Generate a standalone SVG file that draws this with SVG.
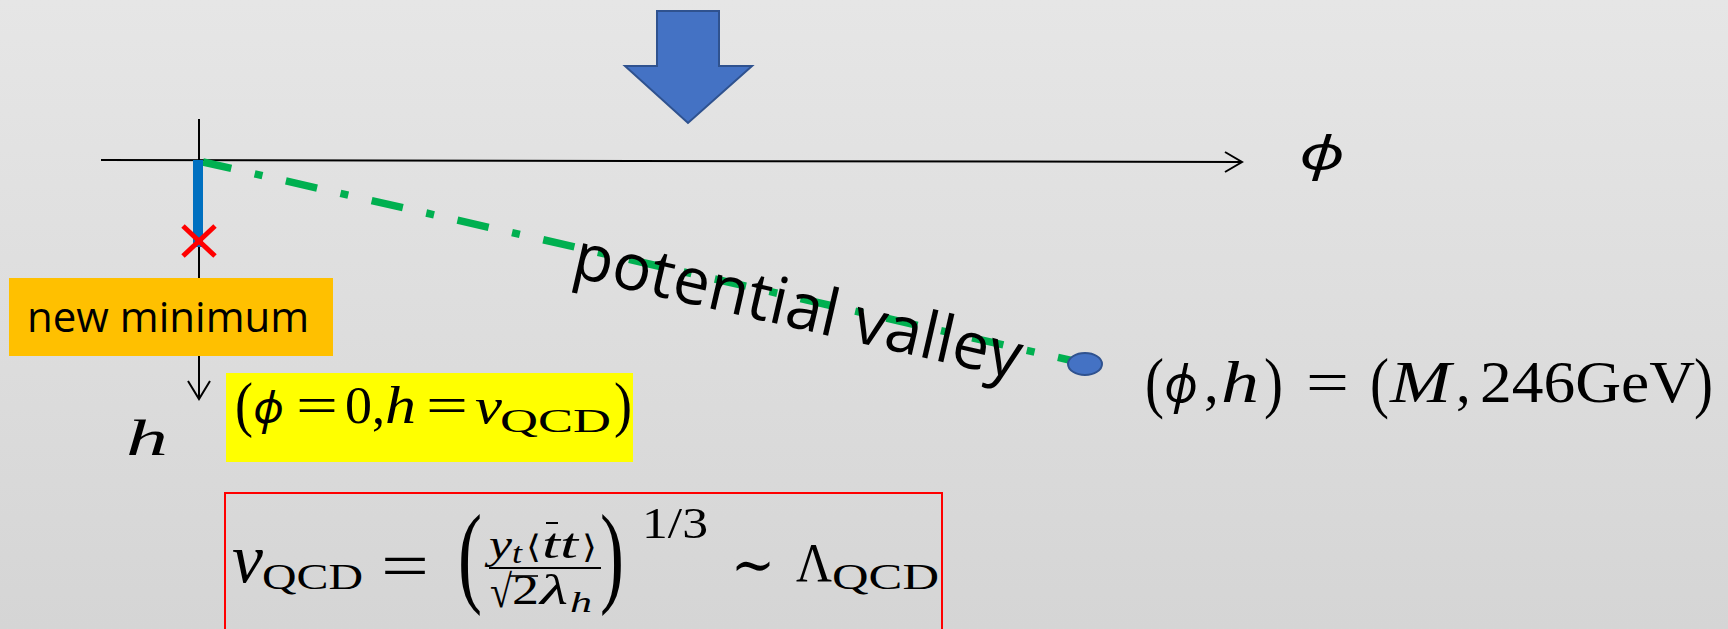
<svg xmlns="http://www.w3.org/2000/svg" width="1728" height="629" viewBox="0 0 1728 629">
<defs>
<linearGradient id="bgGrad" x1="0" y1="0" x2="0" y2="1">
<stop offset="0" stop-color="#e6e6e6"/>
<stop offset="1" stop-color="#d5d5d5"/>
</linearGradient>
<style>
.m{font-family:"Liberation Serif","DejaVu Serif",serif;fill:#000}
.g{font-family:"DejaVu Serif","Liberation Serif",serif;fill:#000}
.p{font-family:"Noto Sans","DejaVu Sans",sans-serif;font-style:italic;fill:#000}
.i{font-style:italic}
.lbl{font-family:"Open Sans","Noto Sans","Liberation Sans",sans-serif;fill:#000}
.ax{stroke:#000;stroke-width:2;fill:none}
</style>
</defs>
<rect id="background" x="0" y="0" width="1728" height="629" fill="url(#bgGrad)"/>

<g id="big-arrow">
<polygon points="657,11 719,11 719,66 752,66 688,123 625,66 657,66" fill="#4472C4" stroke="#2F528F" stroke-width="2"/>
</g>

<g id="connectors">
<line class="ax" x1="101" y1="160" x2="1242" y2="162"/>
<polyline class="ax" points="1225,152 1242,162 1225,172" stroke-width="2.5"/>
<line class="ax" x1="199" y1="119" x2="199" y2="399"/>
<polyline class="ax" points="188,381 199,399 210,381" stroke-width="2.5"/>
<line x1="203" y1="162" x2="1078" y2="362" stroke="#00B050" stroke-width="7.5" stroke-dasharray="32 24 8 24" stroke-dashoffset="3"/>
<line x1="198" y1="160" x2="198" y2="247" stroke="#0070C0" stroke-width="10"/>
</g>

<g id="red-cross">
<line x1="183" y1="226" x2="215" y2="256" stroke="#FF0000" stroke-width="5"/>
<line x1="215" y1="226" x2="183" y2="256" stroke="#FF0000" stroke-width="5"/>
</g>

<g id="endpoint">
<ellipse cx="1085" cy="364" rx="17" ry="11" fill="#4472C4" stroke="#2F528F" stroke-width="2"/>
</g>

<g id="phi-label">
<text class="p" x="1299" y="170" font-size="48" textLength="46" lengthAdjust="spacingAndGlyphs">ϕ</text>
</g>

<g id="h-label">
<text class="m i" x="126" y="455" font-size="50" textLength="42" lengthAdjust="spacingAndGlyphs">h</text>
</g>

<g id="new-minimum">
<rect x="9" y="278" width="324" height="78" fill="#FFC000"/>
<text class="lbl" x="27" y="332" font-size="42">new minimum</text>
</g>

<g id="potential-valley">
<text class="lbl" x="570" y="276" font-size="65" transform="rotate(13 570 276)">potential valley</text>
</g>

<g id="old-minimum">
<rect x="226" y="373" width="407" height="89" fill="#FFFF00"/>
<text class="m" x="235" y="425" font-size="61" textLength="18" lengthAdjust="spacingAndGlyphs">(</text>
<text class="p" x="253" y="423" font-size="44" textLength="31" lengthAdjust="spacingAndGlyphs">ϕ</text>
<text class="m" x="296" y="423" font-size="52" textLength="42" lengthAdjust="spacingAndGlyphs">=</text>
<text class="m" x="345" y="423" font-size="52" textLength="27" lengthAdjust="spacingAndGlyphs">0</text>
<text class="m" x="372" y="423" font-size="52">,</text>
<text class="m i" x="385" y="423" font-size="52" textLength="31" lengthAdjust="spacingAndGlyphs">h</text>
<text class="m" x="426" y="423" font-size="52" textLength="42" lengthAdjust="spacingAndGlyphs">=</text>
<text class="m i" x="475" y="423" font-size="51" textLength="27" lengthAdjust="spacingAndGlyphs">v</text>
<text class="m" x="500" y="432" font-size="33" textLength="111" lengthAdjust="spacingAndGlyphs">QCD</text>
<text class="m" x="614" y="425" font-size="61" textLength="18" lengthAdjust="spacingAndGlyphs">)</text>
</g>

<g id="vacuum-label">
<text class="m" x="1145" y="405" font-size="68" textLength="19" lengthAdjust="spacingAndGlyphs">(</text>
<text class="p" x="1164" y="402" font-size="52" textLength="34" lengthAdjust="spacingAndGlyphs">ϕ</text>
<text class="m" x="1204" y="402" font-size="59">,</text>
<text class="m i" x="1221" y="402" font-size="59" textLength="38" lengthAdjust="spacingAndGlyphs">h</text>
<text class="m" x="1264" y="405" font-size="68" textLength="19" lengthAdjust="spacingAndGlyphs">)</text>
<text class="m" x="1306" y="402" font-size="59" textLength="43" lengthAdjust="spacingAndGlyphs">=</text>
<text class="m" x="1370" y="405" font-size="68" textLength="19" lengthAdjust="spacingAndGlyphs">(</text>
<text class="m i" x="1390" y="402" font-size="59" textLength="61" lengthAdjust="spacingAndGlyphs">M</text>
<text class="m" x="1456" y="402" font-size="59">,</text>
<text class="m" x="1480" y="402" font-size="59" textLength="215" lengthAdjust="spacingAndGlyphs">246GeV</text>
<text class="m" x="1694" y="405" font-size="68" textLength="19" lengthAdjust="spacingAndGlyphs">)</text>
</g>

<g id="vqcd-formula">
<rect x="225" y="493" width="717" height="160" fill="none" stroke="#FF0000" stroke-width="2"/>
<text class="m i" x="232" y="582" font-size="70" textLength="31" lengthAdjust="spacingAndGlyphs">v</text>
<text class="m" x="262" y="589" font-size="36" textLength="101" lengthAdjust="spacingAndGlyphs">QCD</text>
<text class="m" x="381" y="588" font-size="66" textLength="48" lengthAdjust="spacingAndGlyphs">=</text>
<text class="m" x="0" y="0" font-size="58" textLength="24" lengthAdjust="spacingAndGlyphs" transform="translate(458 592) scale(1 1.92)">(</text>
<text class="m i" x="489" y="558" font-size="42" textLength="23" lengthAdjust="spacingAndGlyphs">y</text>
<text class="m i" x="512" y="563" font-size="29" textLength="10" lengthAdjust="spacingAndGlyphs">t</text>
<text class="g" x="526" y="558" font-size="32" textLength="15" lengthAdjust="spacingAndGlyphs">⟨</text>
<text class="m i" x="542" y="558" font-size="42" textLength="18" lengthAdjust="spacingAndGlyphs">t</text>
<line x1="546" y1="523" x2="558" y2="523" stroke="#000" stroke-width="2"/>
<text class="m i" x="560" y="558" font-size="42" textLength="18" lengthAdjust="spacingAndGlyphs">t</text>
<text class="g" x="582" y="558" font-size="32" textLength="15" lengthAdjust="spacingAndGlyphs">⟩</text>
<line x1="489" y1="568" x2="601" y2="568" stroke="#000" stroke-width="2"/>
<text class="m" x="490" y="607" font-size="46" textLength="22" lengthAdjust="spacingAndGlyphs">√</text>
<line x1="510" y1="576" x2="538" y2="576" stroke="#000" stroke-width="1.6"/>
<text class="m" x="512" y="604" font-size="42" textLength="27" lengthAdjust="spacingAndGlyphs">2</text>
<text class="m i" x="540" y="604" font-size="42" textLength="28" lengthAdjust="spacingAndGlyphs">λ</text>
<text class="m i" x="570" y="612" font-size="29" textLength="22" lengthAdjust="spacingAndGlyphs">h</text>
<text class="m" x="0" y="0" font-size="58" textLength="24" lengthAdjust="spacingAndGlyphs" transform="translate(600 592) scale(1 1.92)">)</text>
<text class="m" x="642" y="538" font-size="45" textLength="66" lengthAdjust="spacingAndGlyphs">1/3</text>
<text class="g" x="731" y="585" font-size="60" textLength="44" lengthAdjust="spacingAndGlyphs">∼</text>
<text class="m" x="796" y="581" font-size="54" textLength="36" lengthAdjust="spacingAndGlyphs">Λ</text>
<text class="m" x="832" y="589" font-size="36" textLength="107" lengthAdjust="spacingAndGlyphs">QCD</text>
</g>
</svg>
